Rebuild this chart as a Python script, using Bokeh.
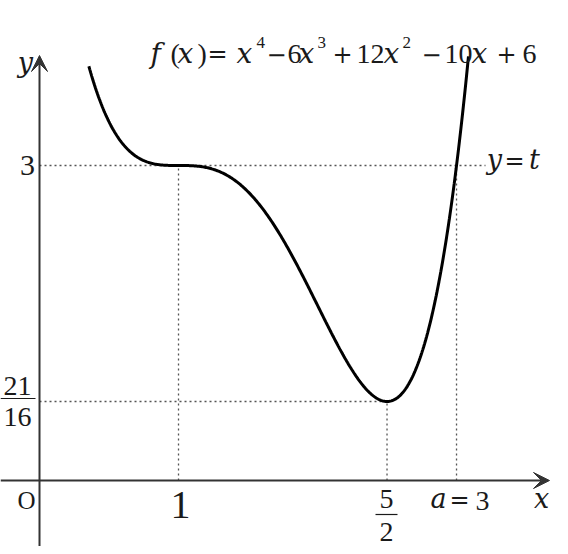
import numpy as np
from bokeh.plotting import figure
from bokeh.models import Arrow, VeeHead
from bokeh.core.properties import value
from bokeh.embed import file_html
from bokeh.resources import INLINE

# ---- data ----
coeffs = [1, -6, 12, -10, 6]          # f(x) = x^4 - 6x^3 + 12x^2 - 10x + 6
x_domain = [0.355, 3.086]
key_x = [1.0, 2.5, 3.0]                # x = 1, 5/2, a = 3
t_value = 3.0                          # y = t = 3
min_value = 21 / 16                    # f(5/2)

# ---- layout ----
W, H = 560, 546
X0, X1 = -0.2806, 3.748
Y0, Y1 = 0.2756, 4.1798
AXIS_Y = 0.7475   # where the drawn x-axis sits (schematic, not to scale)
NUM = "Liberation Serif"
VAR = "DejaVu Serif"
OPS = "DejaVu Serif"
INK = "#1a1a1a"

def dx(px):
    return X0 + px / W * (X1 - X0)

def dy(py):
    return Y1 - py / H * (Y1 - Y0)

p = figure(width=W, height=H, x_range=(X0, X1), y_range=(Y0, Y1),
           output_backend="svg", toolbar_location=None, min_border=0)
p.axis.visible = False
p.grid.visible = False
p.outline_line_color = None
p.background_fill_color = "white"

# dotted guides
dot = dict(line_color="#555555", line_width=1.3, line_dash="2 3")
p.line([0, dx(485)], [t_value, t_value], **dot)
p.line([0, key_x[1]], [min_value, min_value], **dot)
poly = np.poly1d(coeffs)
for xv in key_x:
    p.line([xv, xv], [AXIS_Y, float(poly(xv))], **dot)

# axes
axis_col = "#333333"
p.add_layout(Arrow(end=VeeHead(size=16, fill_color=axis_col, line_color=axis_col, line_width=1),
                   x_start=X0, y_start=AXIS_Y, x_end=dx(549), y_end=AXIS_Y,
                   line_color=axis_col, line_width=2))
p.add_layout(Arrow(end=VeeHead(size=16, fill_color=axis_col, line_color=axis_col, line_width=1),
                   x_start=0, y_start=dy(546), x_end=0, y_end=dy(55),
                   line_color=axis_col, line_width=2))

# curve
xs = np.linspace(x_domain[0], x_domain[1], 400)
p.line(xs, poly(xs), line_color="black", line_width=3)

def label(txt, px, py, size, font=NUM, style="normal", align="center", baseline="middle"):
    p.text(x=[dx(px)], y=[dy(py)], text=[txt], text_font=value(font),
           text_font_size=f"{size}px", text_font_style=style, text_color=INK,
           text_align=align, text_baseline=baseline)

# axis labels
label("y", 25, 62, 27, VAR, "italic")
label("x", 541, 498, 27, VAR, "italic")
label("O", 26, 500, 25)
label("3", 27, 165, 30)
label("21", 17, 385, 28)
label("16", 17, 416, 28)
p.line([dx(0), dx(35)], [dy(398), dy(398)], line_color=INK, line_width=1.2)
label("1", 180, 504, 40)
label("5", 386, 498, 28)
label("2", 386, 531, 28)
p.line([dx(375), dx(397)], [dy(514), dy(514)], line_color=INK, line_width=1.2)
label("a", 438, 498, 27, VAR, "italic")
label("=", 459, 499, 24, OPS)
label("3", 482, 500, 28)
label("y", 494, 159, 27, VAR, "italic")
label("=", 514, 160, 24, OPS)
label("t", 534, 159, 27, VAR, "italic")

# title formula, segment by segment
BASE = 53
SUP = 42
V, O, N, S = 28, 24, 28, 17
segs = [
    ("f", 150, VAR, "italic", V, BASE), ("(", 170, NUM, "normal", N, BASE),
    ("x", 177, VAR, "italic", V, BASE), (")", 197, NUM, "normal", N, BASE),
    ("=", 207, OPS, "normal", O, BASE), ("x", 236, VAR, "italic", V, BASE),
    ("4", 256, NUM, "normal", S, SUP), ("−", 266, OPS, "normal", O, BASE),
    ("6", 287, NUM, "normal", N, BASE), ("x", 298, VAR, "italic", V, BASE),
    ("3", 317, NUM, "normal", S, SUP), ("+", 332, OPS, "normal", O, BASE),
    ("12", 356, NUM, "normal", N, BASE), ("x", 383, VAR, "italic", V, BASE),
    ("2", 402, NUM, "normal", S, SUP), ("−", 421, OPS, "normal", O, BASE),
    ("10", 444, NUM, "normal", N, BASE), ("x", 471, VAR, "italic", V, BASE),
    ("+", 496, OPS, "normal", O, BASE), ("6", 522, NUM, "normal", N, BASE),
]
for txt, px, font, style, size, base in segs:
    label(txt, px, base, size, font, style, align="left", baseline="alphabetic")

open("out.html", "w").write(file_html(p, INLINE))
